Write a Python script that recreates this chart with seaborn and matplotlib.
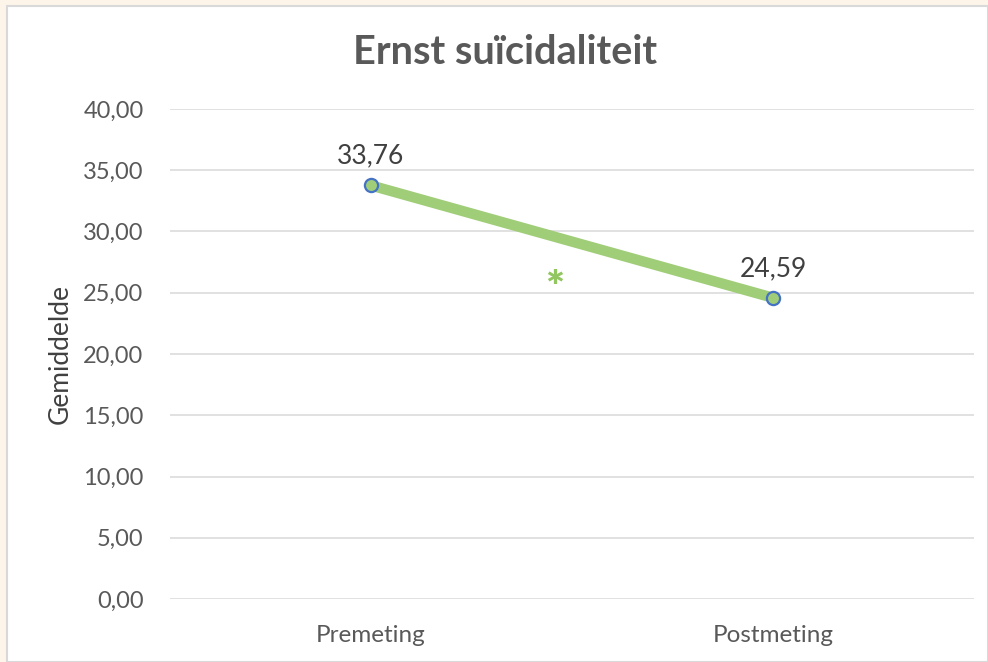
import matplotlib
matplotlib.use("Agg")
import matplotlib.pyplot as plt
from matplotlib.patches import Rectangle
from matplotlib.ticker import FuncFormatter
import seaborn as sns
import pandas as pd

# Mean scores on the severe-suicidality scale
metingen = ["Premeting", "Postmeting"]
gemiddelden = [33.76, 24.59]
y_ticks = [0, 5, 10, 15, 20, 25, 30, 35, 40]

sns.set_theme(style="white")
plt.rcParams["font.family"] = ["Lato", "DejaVu Sans"]

fig = plt.figure(figsize=(9.88, 6.62), dpi=100, facecolor="#FDF5E9")
W, H = 988, 662
fig.patches.append(Rectangle((7 / W, 0), 1 - 7 / W, 1 - 6 / H, transform=fig.transFigure,
                             facecolor="white", edgecolor="#D9D9D9", linewidth=1.5, zorder=-5))

ax = fig.add_axes([170 / W, 1 - 599 / H, (974 - 170) / W, (599 - 109) / H])
ax.set_facecolor("none")
ax.set_zorder(2)

df = pd.DataFrame({"meting": metingen, "gemiddelde": gemiddelden})
sns.lineplot(data=df, x="meting", y="gemiddelde", ax=ax, color="#A0CD78", linewidth=7.5,
             marker="o", markersize=9.5, markerfacecolor="#A0CD78", markeredgecolor="#4472C4",
             markeredgewidth=1.6, clip_on=False, zorder=3)

ax.set_xlim(-0.5, 1.5)
ax.set_ylim(0, 40)
ax.set_yticks(y_ticks)
ax.yaxis.set_major_formatter(FuncFormatter(lambda v, p: f"{v:.2f}".replace(".", ",")))
ax.grid(axis="y", color="#D9D9D9", linewidth=1.1)
ax.grid(axis="x", visible=False)
for s in ax.spines.values():
    s.set_visible(False)
ax.tick_params(axis="y", length=0, pad=19, labelsize=17, labelcolor="#595959")
ax.tick_params(axis="x", length=0, pad=19, labelsize=17.5, labelcolor="#595959")
ax.set_xlabel("")
ax.set_ylabel("Gemiddelde", fontsize=19, color="#404040")
ax.yaxis.set_label_coords((73 - 170) / 804, 0.5)

for i, v in enumerate(gemiddelden):
    ax.annotate(f"{v:.2f}".replace(".", ","), (i, v), xytext=(0, 21), textcoords="offset points",
                ha="center", va="center", fontsize=19, color="#404040")

# Significance marker for the pre/post difference
ax.text(0.458, 25.3, "*", ha="center", va="center", fontsize=32, fontweight="heavy", color="#92C660")

fig.text(505 / W, 1 - 53 / H, "Ernst suïcidaliteit", ha="center", va="center",
         fontsize=28.5, fontweight="bold", color="#595959")

fig.savefig("out.png", dpi=100, facecolor=fig.get_facecolor())
